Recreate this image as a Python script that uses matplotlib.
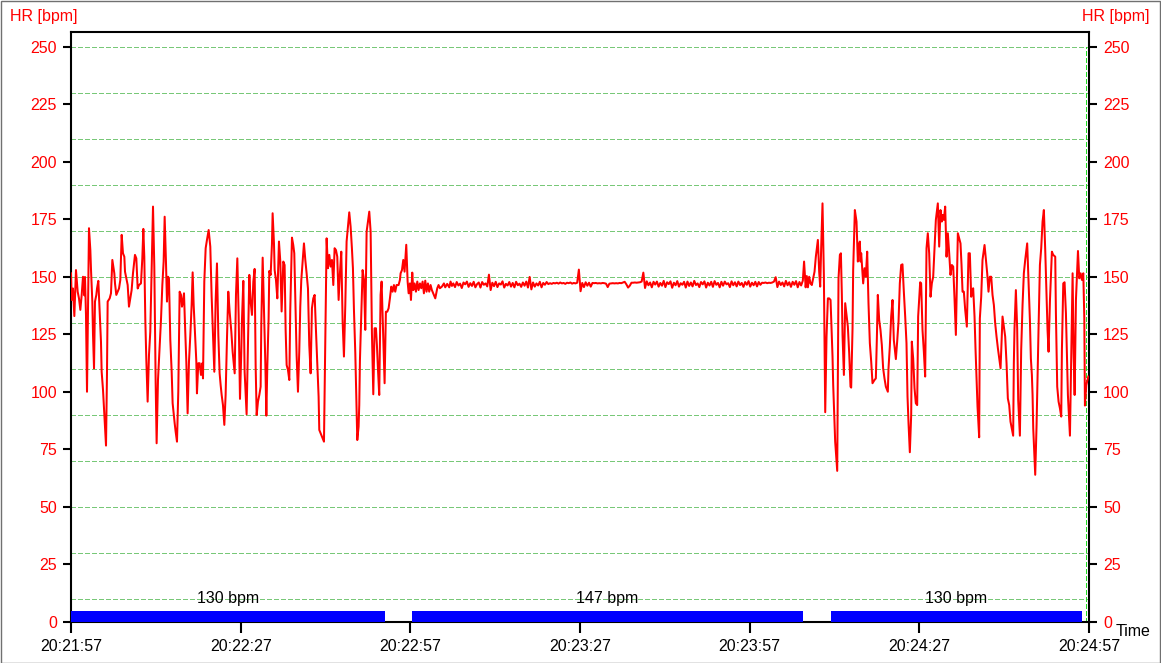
import matplotlib
matplotlib.use("Agg")
import matplotlib.pyplot as plt
from matplotlib.patches import Rectangle
import numpy as np

plt.rcParams['font.family'] = ['Liberation Sans', 'DejaVu Sans']
plt.rcParams['lines.scale_dashes'] = False

# ---- data (time in seconds after 20:21:57, heart rate in bpm) ----
t_first = [0, 0.12, 0.35, 0.59, 0.88, 1.18, 1.41, 1.65, 1.89, 2.12, 2.36, 2.47, 2.65, 2.83, 3.0,
           3.18, 3.42, 3.54, 3.77, 3.89, 4.07, 4.24, 4.48, 4.6, 4.83, 5.07, 5.3, 5.42, 5.66, 5.83,
           6.01, 6.19, 6.36, 6.48, 6.84, 7.07, 7.31, 7.66, 7.78, 8.01, 8.25, 8.49, 8.72, 8.96, 9.19,
           9.43, 9.55, 9.78, 10.02, 10.25, 10.49, 10.72, 10.96, 11.31, 11.55, 11.79, 12.02, 12.37,
           12.61, 12.79, 12.96, 13.14, 13.32, 13.55, 13.79, 14.02, 14.26, 14.5, 14.73, 14.85, 14.97,
           15.14, 15.38, 15.67, 15.91, 16.15, 16.38, 16.56, 16.79, 16.97, 17.15, 17.32, 17.56, 17.8,
           17.97, 18.15, 18.33, 18.5, 18.74, 18.97, 19.09, 19.21, 19.45, 19.62, 19.8, 19.98, 20.15,
           20.39, 20.62, 20.86, 21.1, 21.33, 21.51, 21.69, 21.92, 22.16, 22.27, 22.51, 22.75, 22.98,
           23.22, 23.34, 23.57, 23.81, 24.04, 24.34, 24.63, 24.87, 25.1, 25.34, 25.57, 25.81, 26.05,
           26.28, 26.46, 26.64, 26.87, 27.11, 27.34, 27.58, 27.81, 28.05,
           28.35, 28.58, 28.94, 29.17, 29.41, 29.64, 29.88, 30.11, 30.23, 30.47, 30.7, 31.05, 31.29,
           31.53, 31.76, 32.0, 32.24, 32.47, 32.65, 32.83, 33.06, 33.3, 33.53, 33.65, 33.89, 34.12,
           34.36, 34.54, 34.71, 34.94, 35.06, 35.3, 35.53, 35.65, 35.89, 36.01, 36.24, 36.48, 36.77,
           37.01, 37.24, 37.54, 37.77, 37.95, 38.13, 38.36, 38.6, 38.77, 39.07, 39.3, 39.48, 39.66,
           39.89, 40.13, 40.36, 40.54, 40.72, 40.95, 41.19, 41.43, 41.66, 41.9, 42.13, 42.37, 42.6,
           42.84, 43.08, 43.31, 43.55, 43.78, 43.9, 44.26, 44.73, 44.96, 45.2, 45.43, 45.67, 45.9,
           46.14, 46.38, 46.61, 46.85, 47.08, 47.32, 47.55, 47.79, 48.03, 48.26, 48.5, 48.73, 48.97,
           49.2, 49.44, 49.67, 49.85, 50.03, 50.27, 50.44, 50.62, 50.85, 50.97, 51.09, 51.33, 51.56,
           51.8, 52.03, 52.27, 52.5, 52.74, 52.98, 53.21, 53.45, 53.68, 53.92, 54.09, 54.27, 54.5,
           54.74, 54.92, 55.09, 55.27, 55.45, 55.68, 55.92, 56.16, 56.39, 56.63, 56.86, 57.1, 57.33,
           57.57, 57.92, 58.16, 58.28, 58.52, 58.75, 58.98, 59.28, 59.52, 59.7, 59.93, 60.11, 60.34,
           60.52, 60.75, 60.99, 61.23, 61.46, 61.7, 61.93, 62.17, 62.4, 62.64, 62.87, 63.11, 63.34,
           63.58, 63.81, 64.05, 64.41, 64.76, 64.99, 65.23, 65.58, 65.94, 66.17, 66.52, 66.88, 67.11,
           67.35]
hr_first = [151.6, 140, 145, 133, 153, 143.6, 140.7, 135.7, 142.2, 150.1, 142, 150, 133.5, 100.1, 135,
            171.2, 161.7, 153, 139.3, 125, 110.3, 139.3, 142.2, 145, 148.3, 135, 121.9, 108.8, 100.9, 92.9,
            84.9, 76.7, 107.4, 139.3, 140.7, 142.9, 157.4, 151.6, 147.2, 142.2, 143.6, 145, 148.7, 168.3, 160.3,
            158.8, 152.3, 149.4, 146.5, 137.1, 140.7, 144.3, 151.6, 159.6, 158.1, 145, 146.5, 147.2,
            158.1, 170.9, 158.8, 131.3, 113.9, 95.8, 116.1, 126.2, 153, 180.6, 154.5, 128.4, 103.8,
            77.7, 105.2, 119, 131.3, 146.5, 156.7, 176.2, 156.7, 139.3, 150.1, 149.4, 122.6, 108.8,
            95.1, 90.7, 86.4, 82.8, 78.4, 100.1, 121.2, 143.6, 142.2, 137.1, 139.3, 142.9, 129.9,
            113.2, 90.7, 113.2, 124.8, 137.8, 152, 137.8, 125.5, 113.2, 99.4, 112.5, 112.5, 107.4,
            112.5, 105.9, 148, 162.5, 166.1, 170.4, 163.2, 141.4, 124.8, 108.8, 139.3, 155.9, 124.8,
            108.1, 103, 98.7, 94.3, 85.7, 98.7, 123.3, 143.6, 134.9,
            126.2, 117.5, 108.1, 142.2, 158.1, 133.5, 97, 117.5, 131.3, 148.3, 108.8, 90.3, 121.2,
            150.9, 139.3, 133.5, 148, 153.5, 111, 90, 95.8, 98.7, 102.3, 129.9, 158.4, 135,
            112.5, 89.7, 111, 132, 152.6, 150.9, 164.2, 177.7, 164.6, 153, 148.7, 140.7, 165.4,
            156.7, 135, 156.7, 155.2, 127, 111.7, 109.6, 105.2, 135.7, 167.1, 163.9, 160.3, 140.7,
            116.1, 100.1, 117.5, 137.1, 148.7, 156.7, 164.6, 157.4, 151.6, 145, 120.4, 108.1, 136.4,
            140.7, 142.2, 127, 112.5, 98, 83.5, 81.3, 78.4, 122.6, 166.8, 153.8, 159.6, 154.5,
            157.4, 146.5, 162.5, 161.7, 158.8, 140, 151.6, 161, 130.6, 115.4, 137.8, 165.4, 171.9,
            178.1, 171.9, 162.5, 153.8, 135.7, 116.8, 98, 79.1, 84.9, 94.3, 113.9, 133.5, 153,
            148.7, 127, 169.7, 174.1, 178.4, 169.7, 125.5, 99, 127.7, 127.7, 120.4, 110.3, 98.7,
            142.2, 148, 133.5, 119, 103.8, 134.9, 134.9, 136.4, 140.7, 145.8, 143.6, 146.5, 143.6,
            146.5, 146.5, 148.7, 151.6, 153, 157.4, 152.3, 164, 148, 142.9, 147.2, 140, 151.9,
            144.3, 147.2, 143.6, 148, 144.3, 147.2, 145.1, 148, 142.9, 148.4, 143.6, 147.2, 143.6,
            146.5, 144.3, 142.9, 140.7, 145.1, 146.5, 145.1, 145.8, 147.2, 145.5, 147, 145.5, 148,
            146.1]

# steady section, sampled every 0.3 s from 67.6 s to 129.4 s
mid_start, mid_step = 67.6, 0.3
hr_mid = [147.2, 145.6, 147.8, 146.3, 147.1, 145.2, 147.6, 146.8, 148.0, 145.7,
          147.3, 146.1, 147.9, 145.5, 146.9, 147.6, 145.4, 147.8, 146.6, 147.2,
          145.9, 151.0, 144.3, 147.5, 146.0, 147.9, 145.6, 147.2, 146.7, 148.1,
          145.4, 147.0, 146.3, 147.8, 145.8, 147.4, 145.5, 147.9, 146.4, 147.1,
          145.7, 147.6, 146.2, 148.0, 145.4, 150.0, 144.6, 147.6, 145.8, 147.2,
          146.3, 147.9, 145.5, 147.4, 146.6, 147.8, 146.9, 147.3, 147.0, 147.4,
          147.2, 147.5, 147.1, 147.6, 147.2, 147.4, 147.0, 147.5, 147.3, 147.6,
          147.1, 147.4, 147.2, 147.5, 153.2, 143.8, 147.4, 145.6, 147.7, 146.2,
          147.5, 145.8, 147.4, 147.3, 147.4, 147.2, 147.3, 147.2, 147.4, 147.3,
          147.1, 145.6, 147.1, 147.2, 147.3, 147.2, 147.3, 147.2, 147.4, 147.3,
          147.6, 147.9, 146.8, 145.4, 146.2, 147.5, 147.5, 147.6, 147.5, 147.6,
          147.7, 148.0, 151.9, 145.2, 148.1, 146.4, 147.6, 145.5, 147.9, 146.7,
          148.0, 145.8, 147.4, 146.2, 148.3, 145.6, 147.7, 146.9, 148.1, 145.3,
          147.5, 146.4, 148.2, 145.8, 147.3, 146.6, 147.9, 145.4, 148.0, 146.1,
          147.6, 145.9, 148.3, 146.5, 147.2, 145.6, 147.8, 146.8, 148.1, 145.4,
          147.5, 146.3, 147.9, 145.7, 148.2, 146.6, 147.4, 145.5, 147.9, 146.2,
          148.0, 146.8, 147.3, 145.6, 148.1, 146.4, 147.7, 145.9, 148.0, 146.5,
          147.4, 145.7, 147.8, 146.6, 148.2, 145.8, 147.5, 146.4, 147.9, 145.9,
          147.8, 146.6, 147.5, 147.4, 147.6, 147.3, 147.5, 147.4, 147.6, 148.0,
          149.9, 145.6, 148.0, 146.5, 147.6, 145.9, 148.3, 146.4, 147.7, 145.7,
          147.9, 146.6, 148.2, 145.5, 147.8, 146.3, 148.4]

t_last = [129.62, 129.9, 130.1, 130.3, 130.52, 130.76, 130.99, 131.23, 131.47, 131.7, 132.06, 132.29,
          132.47, 132.65, 132.88, 133.12, 133.24, 133.36, 133.59, 133.83, 134.06, 134.3, 134.48,
          134.65, 134.77, 134.94, 135.12, 135.48, 135.59, 135.71, 135.95, 136.13, 136.3, 136.42,
          136.66, 136.89, 137.13, 137.36, 137.6, 137.83, 137.95, 138.19, 138.3, 138.6, 138.89,
          139.13, 139.31, 139.48, 139.6, 139.72, 140.07, 140.31, 140.54, 140.78, 141.01, 141.25,
          141.49, 141.72, 142.07, 142.31, 142.49, 142.66, 142.9, 143.13, 143.37, 143.6, 143.84,
          144.08, 144.43, 144.55, 144.78, 145.02, 145.26, 145.49, 145.85, 146.08, 146.32, 146.55,
          146.79, 147.02, 147.26, 147.5, 147.73, 147.91, 148.09, 148.32, 148.56, 148.67, 148.91,
          149.15, 149.38, 149.62, 149.79, 149.97, 150.15, 150.32, 150.56, 150.8, 151.03, 151.27,
          151.5, 151.74, 151.98, 152.21, 152.45, 152.68, 152.92, 153.27, 153.51, 153.74, 153.98,
          154.1, 154.33, 154.57, 154.81, 155.04, 155.28, 155.51, 155.75, 155.99, 156.22, 156.46,
          156.81, 157.05, 157.28, 157.46, 157.64, 157.87, 158.11, 158.4, 158.7, 158.93, 159.17,
          159.28, 159.52, 159.76, 159.93, 160.11, 160.29, 160.58, 160.7, 160.94, 161.17, 161.53,
          161.76, 162.0, 162.23, 162.47, 162.71, 162.94, 163.18, 163.41, 163.65, 163.89, 164.12,
          164.36, 164.71, 164.94, 165.18, 165.42, 165.65, 165.89, 166.12, 166.59, 166.71, 166.83,
          167.07, 167.3, 167.48, 167.78, 168.01, 168.25, 168.48, 168.72, 169.07, 169.31, 169.55,
          169.72, 169.9, 170.02, 170.14, 170.49, 170.73, 170.9, 171.08, 171.32, 171.55, 171.79,
          172.02, 172.26, 172.5, 172.67, 172.85, 173.09, 173.44, 173.67, 174.03, 174.15, 174.26,
          174.38, 174.62, 174.86, 175.09, 175.21, 175.45, 175.68, 175.92, 176.27, 176.63, 176.86,
          177.1, 177.28, 177.46, 177.69, 178.05, 178.28, 178.52, 178.75, 178.99, 179.17, 179.28,
          179.52, 179.87]
hr_last = [156.7, 145.5, 150.4, 145.5, 150.1, 147.2, 146.5, 149.4, 152.3, 158.8, 166.1, 152.3,
           145.8, 163.2, 182, 150.9, 121.9, 91.2, 124.1, 140.7, 140.7, 140, 127.7,
           115.4, 103, 90.7, 78.4, 65.7, 107.4, 149.4, 159.6, 160.3, 142.2, 124.8,
           107.4, 138.6, 133.5, 128.4, 116.8, 102.3, 101.9, 127.7, 153, 179.1, 174.1,
           156.7, 163.9, 165.4, 156.7, 160.3, 147.2, 153.8, 150.1, 161, 138.6, 121.2,
           113.2, 103.8, 105.2, 105.9, 123.3, 142.2, 131.3, 127, 120.4, 110.3, 105.9,
           102.3, 100.1, 110.3, 119.7, 132.8, 140, 122.6, 114.3, 121.9, 130.6, 147.2,
           155.2, 155.5, 143.6, 132.8, 121.2, 98, 86.4, 73.8, 90, 121.9, 114.6,
           101.6, 95.1, 94.3, 132.8, 140, 147.7, 147.2, 127, 117.5, 106.7, 162.5,
           169, 160.3, 141.4, 147.2, 150.1, 162.5, 174.8, 182, 163.2, 179.1, 174.1,
           177, 174.8, 180.6, 158.8, 169, 160.3, 150.9, 155.2, 154.5, 140.7, 124.8,
           169, 166.8, 164.6, 155.2, 143.6, 143.6, 135.7, 128.4, 160.3, 160.3, 141.4,
           143.6, 145.1, 132.8, 119, 106.7, 93.6, 80.3, 132, 141.4, 157.4, 163.9,
           158.1, 151.6, 143.6, 150.1, 150.1, 142.2, 137.8, 129.9, 124.1, 119, 114.6,
           110.3, 132.8, 128.4, 124.1, 112.5, 97.2, 94.3, 87.1, 81, 112.5, 127.7,
           144.3, 127.7, 96.5, 81, 118.3, 137.8, 151.6, 157.4, 164.6, 148, 131.3,
           114.6, 107.4, 98.8, 84.2, 64, 85.7, 106.7, 127.7, 155.2, 162.5, 174.1,
           179.1, 161.7, 142.2, 127, 117.5, 139.3, 161, 159.6, 158.8, 134.2, 118.3,
           102.3, 95.8, 92.9, 89.3, 118.3, 147.2, 147.7, 134.2, 98.7, 81, 116.1,
           151.6, 116.8, 98.7, 140, 161.3, 149.4, 151.6, 148.7, 151.6, 132, 94.1,
           103, 106.7]

# averaged phases shown as blue bars
phase_start = [0, 60.35, 134.4]
phase_end = [55.6, 129.4, 178.7]
phase_label = ['130 bpm', '147 bpm', '130 bpm']

x_ticks = [0, 30, 60, 90, 120, 150, 180]
x_labels = ['20:21:57', '20:22:27', '20:22:57', '20:23:27', '20:23:57', '20:24:27', '20:24:57']
y_ticks = [0, 25, 50, 75, 100, 125, 150, 175, 200, 225, 250]
grid_levels = [10, 30, 50, 70, 90, 110, 130, 150, 170, 190, 210, 230, 250]
cursor_t = 179.5

# ---- figure ----
W, H = 1161, 663
fig = plt.figure(figsize=(W / 100, H / 100), dpi=100)
ax = fig.add_axes([71 / W, 1 - 622 / H, (1089 - 71) / W, (622 - 32) / H])

t_mid = mid_start + mid_step * np.arange(len(hr_mid))
t_all = np.concatenate([t_first, t_mid, t_last])
hr_all = np.concatenate([hr_first, hr_mid, hr_last])

# crisp 1px dashed green grid, like the original software draws it
for g in grid_levels:
    ax.axhline(g, color='#78c878', lw=0.72, ls=(0, (3.2, 1.6)), antialiased=False, zorder=1)

ax.vlines(cursor_t, 0, 250, color='#22dd22', lw=0.72, ls=(0, (2.9, 1.5)), antialiased=False, zorder=2)

for s, e, lab in zip(phase_start, phase_end, phase_label):
    ax.add_patch(Rectangle((s, 0), e - s, 4.8, color='#0000ff', lw=0, zorder=3))
    ax.text((s + e) / 2, 8.3, lab, ha='center', va='baseline', fontsize=11.5, color='black', zorder=4)

ax.plot(t_all, hr_all, color='#ff0000', lw=1.45, zorder=5)

ax.set_xlim(0, 180)
ax.set_ylim(0, 256.5)
ax.set_xticks(x_ticks)
ax.set_xticklabels(x_labels)
ax.set_yticks(y_ticks)

for sp in ax.spines.values():
    sp.set_linewidth(1.5)
    sp.set_color('black')

ax.tick_params(axis='y', direction='out', length=6, width=1.5, colors='black',
               labelcolor='#ff0000', labelsize=11.5, pad=4, right=True, labelright=True)
ax.tick_params(axis='x', direction='out', length=8, width=1.5, colors='black',
               labelcolor='black', labelsize=11.5, pad=4)

fig.text(10 / W, 1 - 17 / H, 'HR [bpm]', color='#ff0000', fontsize=11.5, ha='left', va='center')
fig.text(1150 / W, 1 - 17 / H, 'HR [bpm]', color='#ff0000', fontsize=11.5, ha='right', va='center')
fig.text(1116 / W, 1 - 632 / H, 'Time', color='black', fontsize=11.5, ha='left', va='center')

# thin grey frame around the whole picture
fig.patches.append(Rectangle((0.5 / W, 0.5 / H), 1 - 1.5 / W, 1 - 1.5 / H, transform=fig.transFigure,
                             fill=False, edgecolor='#707070', lw=1.0))

fig.savefig('out.png', dpi=100)
